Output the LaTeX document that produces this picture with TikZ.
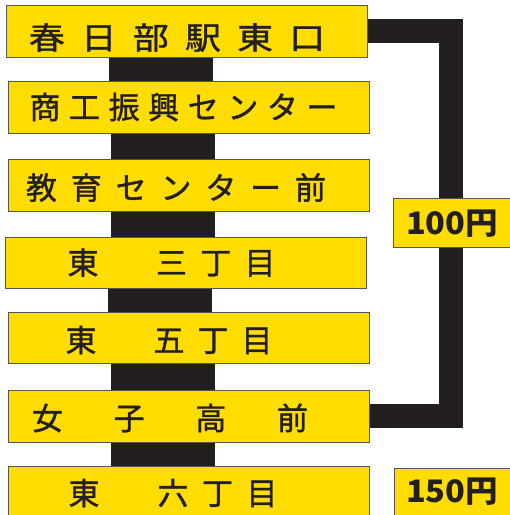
\documentclass[tikz,border=0pt]{standalone}
\usepackage{fontspec}
\usetikzlibrary{backgrounds}
\newfontfamily\jpfont{Noto Sans CJK JP}
\newfontfamily\jpheavy{Noto Sans CJK JP}[FakeBold=1.2]
\definecolor{signyellow}{RGB}{255,221,0}
\definecolor{barblack}{RGB}{35,31,32}
\definecolor{edgegray}{RGB}{85,85,85}
\ExplSyntaxOn
\NewDocumentCommand\spreadtext{O{1}mm}{\makebox[#2][s]{\tl_map_inline:nn{#3}{\scalebox{#1}[1]{##1}\hfill}\unskip}}
\ExplSyntaxOff
\tikzset{
	stopbox/.style={draw=edgegray, line width=1pt, fill=signyellow, minimum width=361pt, minimum height=52pt, inner sep=0pt},
	stoplabel/.style={font=\jpheavy\fontsize{31}{31}\selectfont, text=barblack, inner sep=0pt},
	pricebox/.style={draw=edgegray, line width=1pt, fill=signyellow, minimum width=130pt, minimum height=50pt, inner sep=0pt},
	pricelabel/.style={font=\jpfont\bfseries\fontsize{31}{31}\selectfont, text=barblack, inner sep=0pt},
	bar/.style={draw=barblack, line width=104pt},
	bracket/.style={draw=barblack, line width=24pt, line join=miter}
}
\begin{document}
\begin{tikzpicture}[x=1pt,y=-1pt]
			\useasboundingbox (0,0) rectangle (510,515);
			\clip (0,0) rectangle (510,515);
			% stops
			\node[stopbox, label={[stoplabel, xshift=-10pt, yshift=-6.5pt]center:\spreadtext[1.15]{296pt}{春日部駅東口}}] (b1) at (187,31) {};
			\node[stopbox, label={[stoplabel, xshift=-5pt]center:\spreadtext{308pt}{商工振興センター}}] (b2) at (188.5,107) {};
			\node[stopbox, label={[stoplabel, xshift=-12.5pt, yshift=-2.5pt]center:\spreadtext{300pt}{教育センター前}}] (b3) at (188.5,185) {};
			\node[stopbox, minimum height=51pt, label={[stoplabel, xshift=-14pt]center:\spreadtext{208pt}{東　三丁目}}] (b4) at (185.5,262.5) {};
			\node[stopbox, minimum height=51pt, label={[stoplabel, xshift=-19.5pt, yshift=-2pt]center:\spreadtext{207pt}{東　五丁目}}] (b5) at (188.5,338) {};
			\node[stopbox, label={[stoplabel, xshift=-18.5pt, yshift=-2pt]center:\spreadtext{276pt}{女　子　高　前}}] (b6) at (188.5,416) {};
			\node[stopbox, label={[stoplabel, xshift=-15.5pt, yshift=-1pt]center:\spreadtext{209pt}{東　六丁目}}] (b7) at (188.5,492) {};
			% fares
			\node[pricebox, minimum height=49pt, label={[pricelabel, xshift=-6pt, yshift=-1.5pt]center:\resizebox{92pt}{\height}{100円}}] (p1) at (458,222.5) {};
			\node[pricebox, minimum height=52pt, label={[pricelabel, xshift=-7pt, yshift=2.5pt]center:\resizebox{92pt}{\height}{150円}}] (p2) at (459,494) {};
			\coordinate (bend) at (450.5,0);
			\begin{scope}[on background layer]
				\foreach \a/\b in {b1/b2,b2/b3,b3/b4,b4/b5,b5/b6,b6/b7}
					\draw[bar] ([xshift=-26pt]\a.south) -- ([xshift=-26pt]\a.south |- \b.north);
				\draw[bracket] (b1.east) -| (bend |- b6.east) -- (b6.east);
			\end{scope}
		\end{tikzpicture}
\end{document}
